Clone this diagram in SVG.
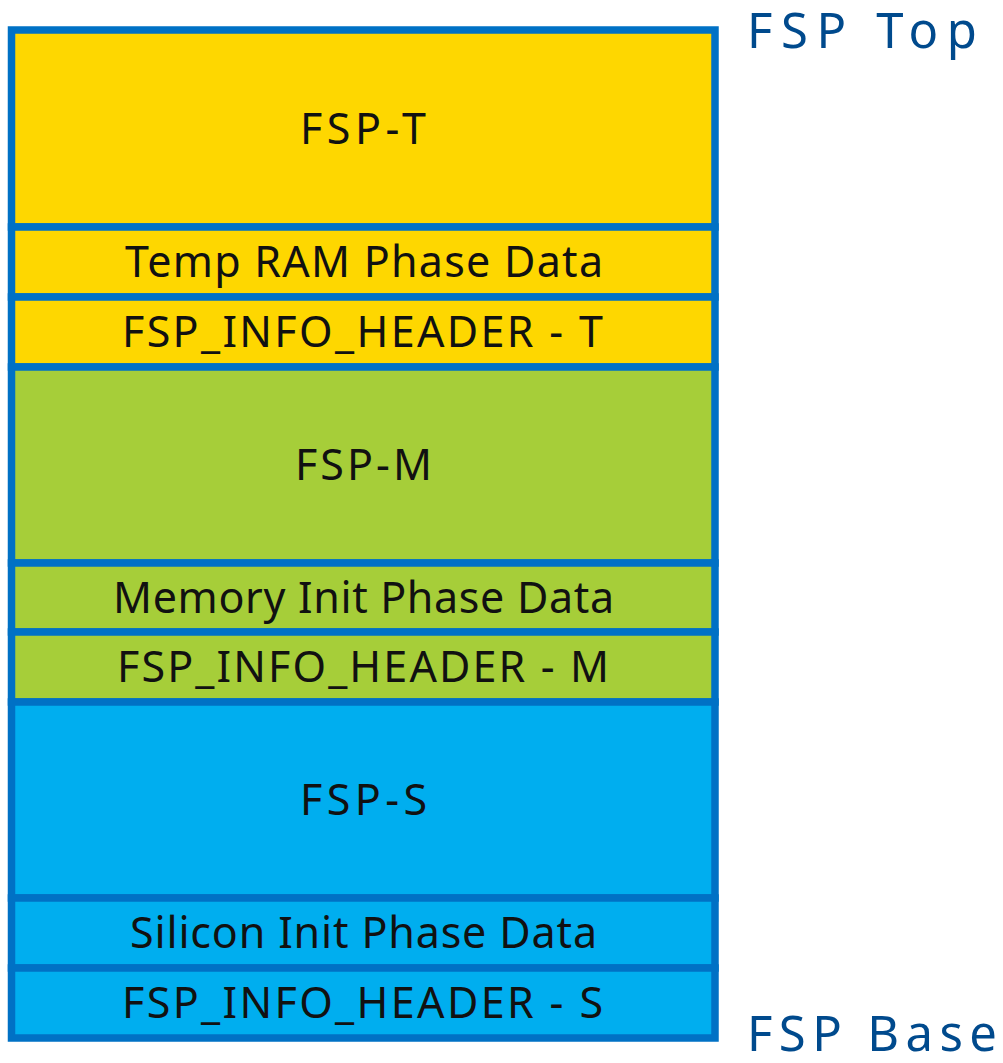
<svg xmlns="http://www.w3.org/2000/svg" width="1003" height="1063" viewBox="0 0 1003 1063">
<style>
.blk{stroke:#0071C5;stroke-width:7.5}
.t{fill:#FED700}.m{fill:#A6CE39}.s{fill:#00AEEF}
.lbl{font-family:"Noto Sans","Open Sans","Liberation Sans",sans-serif;font-size:43px;fill:#111;text-anchor:middle}
.side{font-family:"Noto Sans","Open Sans","Liberation Sans",sans-serif;font-size:49px;fill:#004A8D}
</style>
<rect width="1003" height="1063" fill="#fff"/>
<g id="fsp-t"><rect class="blk t" x="11.5" y="30" width="703.5" height="197"/><text class="lbl" x="363" y="144" textLength="126" lengthAdjust="spacing">FSP-T</text></g>
<g id="temp-ram"><rect class="blk t" x="11.5" y="227" width="703.5" height="70"/><text class="lbl" x="364" y="277" textLength="478" lengthAdjust="spacing">Temp RAM Phase Data</text></g>
<g id="hdr-t"><rect class="blk t" x="11.5" y="297" width="703.5" height="70"/><text class="lbl" x="362.5" y="347" textLength="481" lengthAdjust="spacing">FSP_INFO_HEADER - T</text></g>
<g id="fsp-m"><rect class="blk m" x="11.5" y="367" width="703.5" height="196"/><text class="lbl" x="363.5" y="480" textLength="137" lengthAdjust="spacing">FSP-M</text></g>
<g id="mem-init"><rect class="blk m" x="11.5" y="563" width="703.5" height="69"/><text class="lbl" x="363.5" y="613" textLength="501" lengthAdjust="spacing">Memory Init Phase Data</text></g>
<g id="hdr-m"><rect class="blk m" x="11.5" y="632" width="703.5" height="70"/><text class="lbl" x="363" y="682" textLength="492" lengthAdjust="spacing">FSP_INFO_HEADER - M</text></g>
<g id="fsp-s"><rect class="blk s" x="11.5" y="702" width="703.5" height="196"/><text class="lbl" x="363.5" y="815" textLength="127" lengthAdjust="spacing">FSP-S</text></g>
<g id="si-init"><rect class="blk s" x="11.5" y="898" width="703.5" height="70"/><text class="lbl" x="363.5" y="948" textLength="467" lengthAdjust="spacing">Silicon Init Phase Data</text></g>
<g id="hdr-s"><rect class="blk s" x="11.5" y="968" width="703.5" height="70"/><text class="lbl" x="362.5" y="1018" textLength="481" lengthAdjust="spacing">FSP_INFO_HEADER - S</text></g>
<g id="fsp-top"><text class="side" x="747" y="48" textLength="230" lengthAdjust="spacing">FSP Top</text></g>
<g id="fsp-base"><text class="side" x="747" y="1051" textLength="250" lengthAdjust="spacing">FSP Base</text></g>
<g id="connectors"/>
</svg>
